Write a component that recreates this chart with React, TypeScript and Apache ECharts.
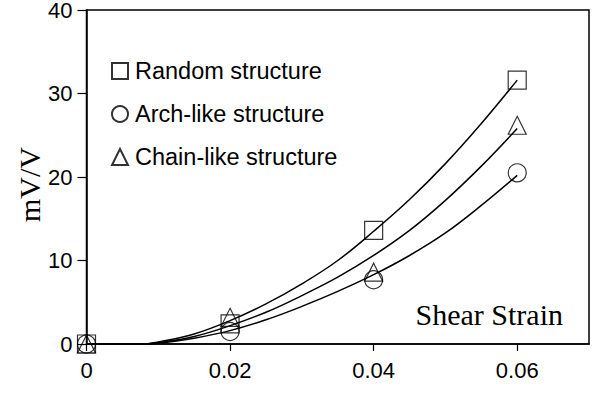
import React, { useEffect, useRef } from "react";
import * as echarts from "echarts";

// Axis ticks
const xTicks = [0, 0.02, 0.04, 0.06];
const yMin = 0;
const yMax = 40;
const yInterval = 10;
const xMin = 0;
const xMax = 0.07;

// Measured points (markers)
const strainPts = [0, 0.02, 0.04, 0.06];
const randomVals = [0, 2.4, 13.6, 31.6];
const archVals = [0, 1.5, 7.7, 20.5];
const chainVals = [0, 3.2, 8.6, 26.2];

// Fitted curves
const fitX = [0, 0.0075, 0.01, 0.015, 0.02, 0.025, 0.03, 0.035, 0.04, 0.045, 0.05, 0.055, 0.06];
const randomFit = [0, 0, 0.25, 1.2, 2.8, 4.8, 7.2, 10.0, 13.5, 17.3, 21.6, 26.4, 31.6];
const chainFit = [0, 0, 0.15, 0.9, 2.2, 3.8, 5.8, 8.0, 10.6, 13.6, 17.2, 21.3, 25.8];
const archFit = [0, 0, 0.1, 0.7, 1.6, 2.9, 4.5, 6.3, 8.3, 10.6, 13.3, 16.6, 20.2];

const names = ["Random structure", "Arch-like structure", "Chain-like structure"];
const symbols = ["rect", "circle", "triangle"];

const SANS = "'Liberation Sans', Arial, sans-serif";
const SERIF = "'Liberation Serif', 'Times New Roman', serif";

export default function App() {
  const ref = useRef<HTMLDivElement>(null);
  useEffect(() => {
    if (!ref.current) return;
    const chart = echarts.init(ref.current, undefined, { renderer: "svg" });
    const pair = (xs: number[], ys: number[]) => xs.map((x, i) => [x, ys[i]]);
    const markerSets = [randomVals, archVals, chainVals];
    const fitSets = [randomFit, archFit, chainFit];

    const scatterSeries = names.map((n, i) => ({
      name: n,
      type: "scatter",
      symbol: symbols[i],
      symbolSize: 18,
      clip: false,
      z: 3,
      itemStyle: { color: "rgba(0,0,0,0)", borderColor: "#000", borderWidth: 1.2 },
      data: pair(strainPts, markerSets[i]),
    }));
    const lineSeries = names.map((n, i) => ({
      name: n + " fit",
      type: "line",
      smooth: 0.4,
      showSymbol: false,
      symbol: "none",
      z: 2,
      lineStyle: { color: "#000", width: 1.5 },
      data: pair(fitX, fitSets[i]),
    }));

    chart.setOption({
      animation: false,
      backgroundColor: "#fff",
      grid: {
        left: 86.5,
        right: 6,
        top: 10,
        bottom: 49,
        show: true,
        borderColor: "#000",
        borderWidth: 1.5,
        containLabel: false,
        outerBoundsMode: "none",
      },
      legend: {
        data: names,
        orient: "vertical",
        left: 106,
        top: 54,
        itemWidth: 16,
        itemHeight: 16,
        itemGap: 19,
        textStyle: { fontFamily: SANS, fontSize: 23.5, color: "#000", lineHeight: 23, padding: [0, 0, 0, 2] },
        selectedMode: false,
      },
      xAxis: {
        type: "value",
        min: xMin,
        max: xMax,
        interval: 0.01,
        splitLine: { show: false },
        axisLine: { show: true, onZero: false, lineStyle: { color: "#000", width: 1.5 } },
        axisTick: {
          show: true,
          inside: false,
          length: 7,
          customValues: xTicks,
          lineStyle: { color: "#000", width: 1.2 },
        },
        axisLabel: {
          customValues: xTicks,
          fontFamily: SANS,
          fontSize: 22,
          color: "#000",
          margin: 15,
        },
      },
      yAxis: {
        type: "value",
        min: yMin,
        max: yMax,
        interval: yInterval,
        splitLine: { show: false },
        axisLine: { show: true, onZero: false, lineStyle: { color: "#000", width: 1.5 } },
        axisTick: { show: true, inside: false, length: 9, lineStyle: { color: "#000", width: 1.2 } },
        axisLabel: { fontFamily: SANS, fontSize: 22, lineHeight: 20, color: "#000", margin: 14 },
      },
      graphic: [
        {
          type: "text",
          x: 29,
          y: 184.5,
          rotation: Math.PI / 2,
          style: {
            text: "mV/V",
            fontFamily: SERIF,
            fontSize: 30,
            fill: "#000",
            align: "center",
            verticalAlign: "middle",
          },
        },
        {
          type: "text",
          x: 563,
          y: 314,
          style: {
            text: "Shear Strain",
            fontFamily: SERIF,
            fontSize: 30,
            fill: "#000",
            align: "right",
            verticalAlign: "middle",
          },
        },
      ],
      series: [...lineSeries, ...scatterSeries],
    });
    return () => chart.dispose();
  }, []);
  return (
    <div
      ref={ref}
      style={{ position: "absolute", left: 0, top: 0, width: 595, height: 393 }}
    />
  );
}
